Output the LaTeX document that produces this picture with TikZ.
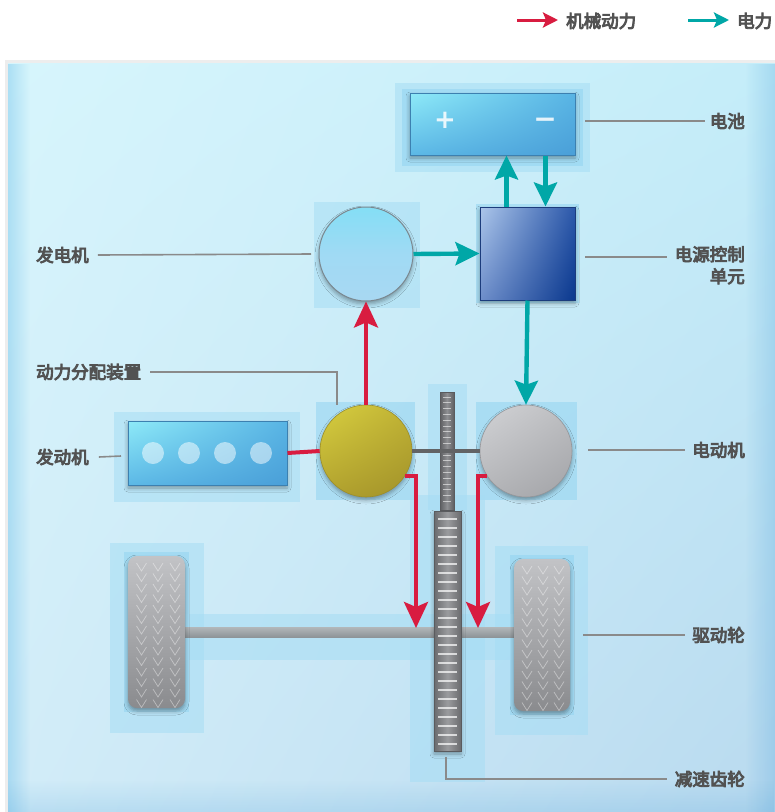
\documentclass[tikz,border=0pt]{standalone}
\usepackage{fontspec}
\newfontfamily\cjk{Noto Sans CJK SC}[FakeBold=5]
\newfontfamily\symf{DejaVu Sans}
\usetikzlibrary{arrows.meta,shadows.blur,fadings,shadings,calc}

\definecolor{labelgray}{HTML}{525252}
\definecolor{leadgray}{HTML}{8A8A8A}
\definecolor{mechred}{HTML}{D81C40}
\definecolor{electeal}{HTML}{00A7A7}
\definecolor{bgA}{HTML}{D7F5FC}
\definecolor{bgB}{HTML}{C4EDF9}
\definecolor{bgC}{HTML}{D2ECF8}
\definecolor{bgD}{HTML}{B9DAEF}
\definecolor{haloout}{HTML}{A6DDF4}
\definecolor{haloin}{HTML}{92D4F1}
% battery and engine casing
\definecolor{caseEdge}{HTML}{3C80B0}
\definecolor{caseUL}{HTML}{8EEAF8}
\definecolor{caseUR}{HTML}{58B4E4}
\definecolor{caseLL}{HTML}{5CB8E6}
\definecolor{caseLR}{HTML}{4A9FD8}
% power control unit
\definecolor{pcuEdge}{HTML}{1C3C7C}
\definecolor{pcuUL}{HTML}{ACC6EA}
\definecolor{pcuUR}{HTML}{2C58AA}
\definecolor{pcuLL}{HTML}{6E8ECA}
\definecolor{pcuLR}{HTML}{0A388E}
% generator
\definecolor{genTop}{HTML}{84DEF5}
\definecolor{genMid}{HTML}{A0DAF4}
\definecolor{genBot}{HTML}{A8D8F2}
\definecolor{genEdge}{HTML}{7A8890}
% power split device
\definecolor{psdUL}{HTML}{D8D040}
\definecolor{psdUR}{HTML}{C0B234}
\definecolor{psdLL}{HTML}{B2A22E}
\definecolor{psdLR}{HTML}{A2922A}
\definecolor{psdEdge}{HTML}{9C8E2A}
% motor
\definecolor{motUL}{HTML}{D2D3D6}
\definecolor{motUR}{HTML}{BDBEC1}
\definecolor{motLL}{HTML}{B3B4B7}
\definecolor{motLR}{HTML}{A2A3A7}
\definecolor{motEdge}{HTML}{95969A}
% steel parts
\definecolor{shaftgray}{HTML}{626365}
\definecolor{gearDark}{HTML}{5E5F62}
\definecolor{gearMid}{HTML}{8E8F92}
\definecolor{gearEdge}{HTML}{5A5B5E}
\definecolor{bigDark}{HTML}{6A6B6E}
\definecolor{bigMid}{HTML}{9A9B9E}
\definecolor{tireTop}{HTML}{C2C3C6}
\definecolor{tireMid}{HTML}{A8A9AC}
\definecolor{tireBot}{HTML}{8A8B8E}
\definecolor{axleTop}{HTML}{B2B7BA}
\definecolor{axleBot}{HTML}{8E9498}

\begin{document}
\begin{tikzpicture}[x=1pt,y=-1pt,
  lbl/.style={font=\cjk\fontsize{17.5}{22}\selectfont, text=labelgray, inner sep=0pt},
  lead/.style={draw=leadgray, line width=1.6pt},
  mecharr/.style={draw=mechred, line width=4pt, -{Stealth[length=26pt,width=24pt,inset=5pt]}},
  elecarr/.style={draw=electeal, line width=4.4pt, -{Stealth[length=24pt,width=23pt,inset=4pt]}},
  keymech/.style={draw=mechred, line width=3pt, -{Stealth[length=15pt,width=15pt,inset=3pt]}},
  keyelec/.style={draw=electeal, line width=3pt, -{Stealth[length=15pt,width=15pt,inset=3pt]}},
  haloA/.style={fill=haloout, fill opacity=.55},
  haloB/.style={fill=haloin, fill opacity=.55},
  softshadow/.style={blur shadow={shadow xshift=0pt, shadow yshift=-3pt, shadow blur radius=4pt, shadow opacity=35}},
  casebox/.style={rectangle, inner sep=0pt, draw=caseEdge, line width=1pt,
    upper left=caseUL, upper right=caseUR, lower left=caseLL, lower right=caseLR, softshadow},
  tirebox/.style={rectangle, rounded corners=9pt, inner sep=0pt, top color=tireTop, middle color=tireMid, bottom color=tireBot, softshadow},
  tread/.style={draw=white, opacity=.4, line width=.75pt},
]

% page and panel
\fill[white] (0,0) rectangle (775,812);
\useasboundingbox (0,0) rectangle (775,812);
\fill[black, opacity=.07] (5,60) rectangle (775,812);
\shade[upper left=bgA, upper right=bgB, lower left=bgC, lower right=bgD] (8,63) rectangle (775,812);
\fill[caseLL, opacity=.35, path fading=east] (8,63) rectangle (30,812);
\fill[caseLR, opacity=.25, path fading=west] (745,63) rectangle (775,812);
\fill[caseLR, opacity=.18, path fading=north] (8,780) rectangle (775,812);

% key
\coordinate (kM1) at (517,20); \coordinate (kM2) at (558,20);
\coordinate (kE1) at (688,20); \coordinate (kE2) at (729,20);
\draw[keymech] (kM1) -- (kM2);
\draw[keyelec] (kE1) -- (kE2);
\node[lbl, anchor=west] (keyMech) at (566,21) {机械动力};
\node[lbl, anchor=west] (keyElec) at (737,21) {电力};

% halos behind the parts
\fill[haloA] (395,83) rectangle (590,172);
\fill[haloB] (402,89) rectangle (583,166);
\fill[haloA] (314,202) rectangle (420,308);
\fill[haloB] (476,204) rectangle (579,303);
\fill[haloA] (114,412) rectangle (300,502);
\fill[haloB] (316,402) rectangle (415,500);
\fill[haloB] (476,402) rectangle (577,500);
\fill[haloA] (428,384) rectangle (467,510);
\fill[haloA] (410,495) rectangle (485,782);
\fill[haloA] (110,543) rectangle (204,733);
\fill[haloB] (124,552) rectangle (189,712);
\fill[haloA] (495,546) rectangle (588,735);
\fill[haloB] (510,555) rectangle (574,715);
\fill[haloA] (185,614) rectangle (515,660);

% axle
\node[inner sep=0pt, minimum width=330pt, minimum height=10pt, top color=axleTop, bottom color=axleBot] (axle) at (350,632) {};

% reduction gear
\node[rectangle, inner sep=0pt, minimum width=14pt, minimum height=118pt, left color=gearDark, right color=gearDark, middle color=gearMid, draw=gearEdge, line width=.6pt] (gearTop) at (447,451) {};
\foreach \yy in {397,402.8,...,506} \draw[white, opacity=.55, line width=1pt] (443,\yy) -- (451,\yy);
\node[rectangle, inner sep=0pt, minimum width=27pt, minimum height=240pt, left color=bigDark, right color=bigDark, middle color=bigMid, draw=gearEdge, line width=.6pt, softshadow] (gearBig) at (447.5,631) {};
\foreach \yy in {519,528,...,745} \draw[white, opacity=.7, line width=1.5pt] (438,\yy) -- (457,\yy);

% wheels
\node[tirebox, minimum width=57pt, minimum height=152pt] (wheelL) at (156.5,632) {};
\node[tirebox, minimum width=56pt, minimum height=152pt] (wheelR) at (542,635) {};
\foreach \cx in {141.5,158,175}
  \foreach \yy in {563,573.5,...,700}
    \draw[tread] (\cx-5,\yy) -- (\cx,\yy+8) -- (\cx+5,\yy);
\foreach \cx in {527,543,559}
  \foreach \yy in {566,576.5,...,703}
    \draw[tread] (\cx-5,\yy) -- (\cx,\yy+8) -- (\cx+5,\yy);

% battery
\node[casebox, minimum width=165pt, minimum height=62pt] (bat) at (492.5,124) {};
\node[font=\symf\bfseries\fontsize{26}{26}\selectfont, text=white, text opacity=.85, inner sep=0pt] (plus) at (445,120) {+};
\node[font=\symf\bfseries\fontsize{28}{28}\selectfont, text=white, text opacity=.85, inner sep=0pt] (minus) at (545,123) {−};

% engine
\node[casebox, minimum width=159pt, minimum height=64pt] (eng) at (207.5,453) {};
\foreach \cx [count=\i] in {153,189,225,261}
  \node[circle, fill=white, fill opacity=.5, minimum size=22pt, inner sep=0pt] (cyl\i) at (\cx,453) {};

% power control unit
\node[rectangle, inner sep=0pt, minimum width=95pt, minimum height=93pt,
  upper left=pcuUL, upper right=pcuUR, lower left=pcuLL, lower right=pcuLR,
  draw=pcuEdge, line width=1pt, softshadow] (pcu) at (527.5,253.5) {};

% generator, power split device, motor
\node[circle, inner sep=0pt, minimum size=94pt, top color=genTop, bottom color=genBot, middle color=genMid, draw=genEdge, line width=1pt, softshadow] (gen) at (366,254) {};
\node[circle, inner sep=0pt, minimum size=92pt, upper left=psdUL, upper right=psdUR, lower left=psdLL, lower right=psdLR, draw=psdEdge, line width=.6pt, softshadow] (psd) at (366,451) {};
\node[circle, inner sep=0pt, minimum size=92pt, upper left=motUL, upper right=motUR, lower left=motLL, lower right=motLR, draw=motEdge, line width=.6pt, softshadow] (mot) at (526,451) {};

% shaft between the power split device and the motor
\draw[draw=shaftgray, line width=4pt] (psd.east) -- (mot.west);

% power flows
\draw[draw=mechred, line width=4pt] (eng.east) -- (psd.west);
\draw[mecharr] (psd.north) -- (gen.south);
\coordinate (tipL) at (416,628);
\coordinate (tipR) at (478,628);
\draw[mecharr] (psd.-33) -| (tipL);
\draw[mecharr] (mot.213) -| (tipR);
\draw[elecarr] (gen.east) -- (pcu.west);
\draw[elecarr] (pcu.south) -- (mot.north);
\draw[elecarr] ([xshift=27pt]pcu.north west) -- ([xshift=27pt]pcu.north west |- bat.south);
\draw[elecarr] ([xshift=-30pt]pcu.north east |- bat.south) -- ([xshift=-30pt]pcu.north east);

% labels and leader lines
\node[lbl, anchor=east] (lbBat) at (745,121) {电池};
\coordinate (cBat) at (585,121);
\draw[lead] (cBat) -- ([xshift=-5pt]lbBat.west);

\node[lbl, anchor=north east, align=right] (lbPcu) at (745,246) {电源控制\\单元};
\coordinate (cPcu) at (585,257);
\draw[lead] (cPcu) -- ([xshift=-8pt]cPcu -| lbPcu.west);

\node[lbl, anchor=west] (lbGen) at (36,255) {发电机};
\coordinate (cGen) at (311,254);
\draw[lead] ([xshift=9pt]lbGen.east) -- (cGen);

\node[lbl, anchor=west] (lbPsd) at (36,372) {动力分配装置};
\coordinate (cPsd) at (337,405);
\draw[lead] ([xshift=9pt]lbPsd.east) -| (cPsd);

\node[lbl, anchor=west] (lbEng) at (36,457) {发动机};
\coordinate (cEng) at (121,456);
\draw[lead] ([xshift=10pt]lbEng.east) -- (cEng);

\node[lbl, anchor=east] (lbMot) at (745,450) {电动机};
\coordinate (cMot) at (588,450);
\draw[lead] (cMot) -- ([xshift=-7pt]lbMot.west);

\node[lbl, anchor=east] (lbWheel) at (745,635) {驱动轮};
\coordinate (cWheel) at (583,635);
\draw[lead] (cWheel) -- ([xshift=-7pt]lbWheel.west);

\node[lbl, anchor=east] (lbGear) at (745,779) {减速齿轮};
\coordinate (cGear) at (446,757);
\draw[lead] (cGear) |- ([xshift=-8pt]lbGear.west);
\end{tikzpicture}
\end{document}
